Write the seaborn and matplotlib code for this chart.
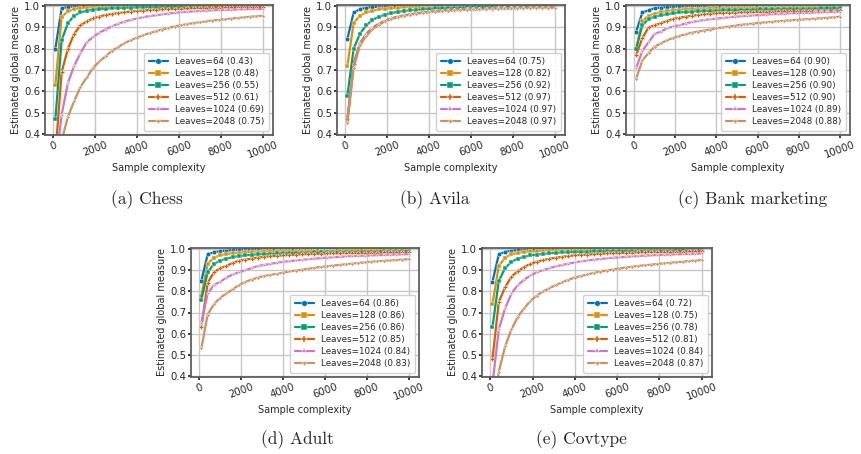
import numpy as np
import pandas as pd
import matplotlib.pyplot as plt
import seaborn as sns

# sample sizes (x axis)
samples = list(range(100, 10001, 300))
leaves = [64, 128, 256, 512, 1024, 2048]

# values in the legend, per dataset
chess_auc = [0.43, 0.48, 0.55, 0.61, 0.69, 0.75]
avila_auc = [0.75, 0.82, 0.92, 0.97, 0.97, 0.97]
bank_auc = [0.90, 0.90, 0.90, 0.90, 0.89, 0.88]
adult_auc = [0.86, 0.86, 0.86, 0.85, 0.84, 0.83]
covtype_auc = [0.72, 0.75, 0.78, 0.81, 0.84, 0.87]

chess = [
    [0.80, 0.99, 0.995, 0.998, 0.999, 1.0, 1.0, 1.0, 1.0, 1.0, 1.0, 1.0, 1.0, 1.0, 1.0, 1.0, 1.0,
     1.0, 1.0, 1.0, 1.0, 1.0, 1.0, 1.0, 1.0, 1.0, 1.0, 1.0, 1.0, 1.0, 1.0, 1.0, 1.0, 1.0],
    [0.63, 0.95, 0.975, 0.985, 0.99, 0.993, 0.995, 0.996, 0.997, 0.997, 0.998, 0.998, 0.998, 0.999,
     0.999, 0.999, 0.999, 0.999, 0.999, 0.999, 1.0, 1.0, 1.0, 1.0, 1.0, 1.0, 1.0, 1.0, 1.0, 1.0,
     1.0, 1.0, 1.0, 1.0],
    [0.47, 0.84, 0.92, 0.955, 0.97, 0.978, 0.983, 0.986, 0.988, 0.99, 0.991, 0.992, 0.993, 0.994,
     0.994, 0.995, 0.995, 0.995, 0.996, 0.996, 0.996, 0.996, 0.997, 0.997, 0.997, 0.997, 0.997,
     0.998, 0.998, 0.998, 0.998, 0.998, 0.998, 0.998],
    [0.30, 0.69, 0.80, 0.87, 0.91, 0.928, 0.942, 0.951, 0.958, 0.963, 0.967, 0.971, 0.974, 0.977,
     0.979, 0.981, 0.983, 0.985, 0.986, 0.987, 0.988, 0.989, 0.99, 0.991, 0.992, 0.993, 0.993,
     0.994, 0.994, 0.995, 0.995, 0.996, 0.996, 0.996],
    [0.25, 0.49, 0.64, 0.72, 0.78, 0.83, 0.855, 0.875, 0.89, 0.905, 0.917, 0.927, 0.935, 0.942,
     0.948, 0.953, 0.957, 0.961, 0.965, 0.968, 0.971, 0.973, 0.975, 0.977, 0.979, 0.98, 0.981,
     0.982, 0.983, 0.984, 0.985, 0.986, 0.986, 0.987],
    [0.15, 0.37, 0.48, 0.555, 0.62, 0.665, 0.71, 0.74, 0.765, 0.79, 0.808, 0.826, 0.84, 0.852,
     0.863, 0.873, 0.882, 0.89, 0.897, 0.904, 0.91, 0.915, 0.92, 0.924, 0.928, 0.932, 0.935,
     0.938, 0.941, 0.944, 0.947, 0.95, 0.952, 0.954],
]

avila = [
    [0.845, 0.97, 0.985, 0.992, 0.995, 0.997, 0.998, 0.999, 0.999, 1.0, 1.0, 1.0, 1.0, 1.0, 1.0,
     1.0, 1.0, 1.0, 1.0, 1.0, 1.0, 1.0, 1.0, 1.0, 1.0, 1.0, 1.0, 1.0, 1.0, 1.0, 1.0, 1.0, 1.0, 1.0],
    [0.72, 0.92, 0.955, 0.97, 0.978, 0.984, 0.988, 0.99, 0.992, 0.994, 0.995, 0.996, 0.997, 0.997,
     0.998, 0.998, 0.998, 0.999, 0.999, 0.999, 0.999, 0.999, 0.999, 0.999, 0.999, 0.999, 0.999,
     0.999, 0.999, 0.999, 0.999, 0.999, 0.999, 0.999],
    [0.58, 0.80, 0.87, 0.91, 0.935, 0.95, 0.96, 0.967, 0.973, 0.977, 0.98, 0.983, 0.985, 0.987,
     0.989, 0.99, 0.991, 0.992, 0.993, 0.994, 0.994, 0.995, 0.995, 0.995, 0.996, 0.996, 0.996,
     0.996, 0.997, 0.997, 0.997, 0.997, 0.997, 0.997],
    [0.47, 0.73, 0.825, 0.87, 0.898, 0.917, 0.932, 0.942, 0.95, 0.956, 0.961, 0.966, 0.97, 0.973,
     0.976, 0.978, 0.98, 0.982, 0.983, 0.984, 0.985, 0.986, 0.987, 0.988, 0.989, 0.99, 0.99,
     0.991, 0.991, 0.992, 0.992, 0.993, 0.993, 0.993],
    [0.46, 0.72, 0.82, 0.865, 0.895, 0.915, 0.93, 0.94, 0.948, 0.955, 0.96, 0.965, 0.969, 0.972,
     0.975, 0.977, 0.979, 0.981, 0.983, 0.984, 0.985, 0.986, 0.987, 0.988, 0.989, 0.99, 0.99,
     0.991, 0.991, 0.992, 0.992, 0.993, 0.993, 0.993],
    [0.45, 0.71, 0.815, 0.86, 0.892, 0.913, 0.928, 0.939, 0.947, 0.954, 0.959, 0.964, 0.968,
     0.971, 0.974, 0.976, 0.978, 0.98, 0.982, 0.983, 0.984, 0.985, 0.986, 0.987, 0.988, 0.989,
     0.99, 0.99, 0.991, 0.991, 0.992, 0.992, 0.993, 0.993],
]

bank = [
    [0.88, 0.97, 0.98, 0.99, 0.993, 0.995, 0.997, 0.998, 0.999, 1.0, 1.0, 1.0, 1.0, 1.0, 1.0, 1.0,
     1.0, 1.0, 1.0, 1.0, 1.0, 1.0, 1.0, 1.0, 1.0, 1.0, 1.0, 1.0, 1.0, 1.0, 1.0, 1.0, 1.0, 1.0],
    [0.80, 0.93, 0.955, 0.965, 0.972, 0.977, 0.98, 0.983, 0.985, 0.986, 0.987, 0.988, 0.989, 0.99,
     0.99, 0.991, 0.991, 0.992, 0.992, 0.992, 0.993, 0.993, 0.993, 0.993, 0.994, 0.994, 0.994,
     0.994, 0.994, 0.995, 0.995, 0.995, 0.995, 0.995],
    [0.80, 0.91, 0.94, 0.95, 0.957, 0.962, 0.966, 0.97, 0.972, 0.974, 0.976, 0.977, 0.978, 0.979,
     0.98, 0.981, 0.982, 0.982, 0.983, 0.983, 0.984, 0.984, 0.985, 0.985, 0.986, 0.986, 0.987,
     0.987, 0.988, 0.988, 0.989, 0.989, 0.99, 0.99],
    [0.77, 0.85, 0.90, 0.91, 0.92, 0.93, 0.94, 0.945, 0.95, 0.955, 0.958, 0.961, 0.964, 0.966,
     0.967, 0.968, 0.969, 0.97, 0.971, 0.972, 0.973, 0.973, 0.974, 0.975, 0.975, 0.976, 0.976,
     0.977, 0.977, 0.978, 0.978, 0.979, 0.979, 0.98],
    [0.71, 0.79, 0.83, 0.87, 0.88, 0.895, 0.905, 0.91, 0.918, 0.925, 0.93, 0.935, 0.938, 0.941,
     0.944, 0.947, 0.95, 0.952, 0.954, 0.956, 0.958, 0.96, 0.962, 0.963, 0.965, 0.966, 0.967,
     0.968, 0.969, 0.97, 0.971, 0.972, 0.973, 0.974],
    [0.66, 0.745, 0.78, 0.81, 0.825, 0.84, 0.85, 0.86, 0.867, 0.875, 0.88, 0.885, 0.89, 0.895, 0.9,
     0.904, 0.908, 0.912, 0.915, 0.918, 0.921, 0.924, 0.926, 0.929, 0.931, 0.933, 0.935, 0.937,
     0.939, 0.941, 0.943, 0.945, 0.947, 0.95],
]

adult = [
    [0.85, 0.975, 0.985, 0.99, 0.993, 0.995, 0.997, 0.998, 0.999, 1.0, 1.0, 1.0, 1.0, 1.0, 1.0,
     1.0, 1.0, 1.0, 1.0, 1.0, 1.0, 1.0, 1.0, 1.0, 1.0, 1.0, 1.0, 1.0, 1.0, 1.0, 1.0, 1.0, 1.0, 1.0],
    [0.78, 0.93, 0.96, 0.97, 0.977, 0.98, 0.983, 0.985, 0.987, 0.988, 0.989, 0.99, 0.99, 0.991,
     0.991, 0.992, 0.992, 0.992, 0.993, 0.993, 0.993, 0.993, 0.994, 0.994, 0.994, 0.994, 0.994,
     0.995, 0.995, 0.995, 0.995, 0.995, 0.995, 0.995],
    [0.76, 0.89, 0.93, 0.945, 0.955, 0.962, 0.967, 0.97, 0.973, 0.975, 0.977, 0.978, 0.979, 0.98,
     0.981, 0.982, 0.983, 0.983, 0.984, 0.984, 0.985, 0.985, 0.986, 0.986, 0.987, 0.987, 0.988,
     0.988, 0.988, 0.989, 0.989, 0.989, 0.99, 0.99],
    [0.63, 0.84, 0.89, 0.91, 0.92, 0.935, 0.945, 0.95, 0.955, 0.96, 0.963, 0.966, 0.968, 0.97,
     0.972, 0.974, 0.975, 0.976, 0.977, 0.978, 0.979, 0.979, 0.98, 0.981, 0.981, 0.982, 0.982,
     0.983, 0.983, 0.984, 0.984, 0.984, 0.985, 0.985],
    [0.65, 0.79, 0.83, 0.845, 0.865, 0.88, 0.89, 0.9, 0.91, 0.92, 0.925, 0.93, 0.935, 0.94, 0.943,
     0.946, 0.949, 0.952, 0.955, 0.957, 0.959, 0.961, 0.963, 0.965, 0.967, 0.968, 0.969, 0.97,
     0.971, 0.972, 0.973, 0.974, 0.975, 0.976],
    [0.53, 0.69, 0.74, 0.77, 0.79, 0.81, 0.83, 0.845, 0.855, 0.865, 0.873, 0.878, 0.882, 0.888,
     0.894, 0.898, 0.902, 0.907, 0.911, 0.915, 0.918, 0.922, 0.925, 0.928, 0.931, 0.934, 0.937,
     0.94, 0.942, 0.944, 0.946, 0.948, 0.95, 0.952],
]

covtype = [
    [0.845, 0.975, 0.987, 0.992, 0.995, 0.997, 0.998, 0.999, 1.0, 1.0, 1.0, 1.0, 1.0, 1.0, 1.0,
     1.0, 1.0, 1.0, 1.0, 1.0, 1.0, 1.0, 1.0, 1.0, 1.0, 1.0, 1.0, 1.0, 1.0, 1.0, 1.0, 1.0, 1.0, 1.0],
    [0.74, 0.92, 0.96, 0.975, 0.982, 0.986, 0.989, 0.991, 0.993, 0.994, 0.995, 0.995, 0.996,
     0.996, 0.996, 0.997, 0.997, 0.997, 0.997, 0.997, 0.998, 0.998, 0.998, 0.998, 0.998, 0.998,
     0.998, 0.998, 0.998, 0.998, 0.998, 0.998, 0.998, 0.998],
    [0.63, 0.85, 0.91, 0.94, 0.955, 0.963, 0.97, 0.974, 0.977, 0.98, 0.982, 0.984, 0.985, 0.986,
     0.987, 0.988, 0.989, 0.989, 0.99, 0.99, 0.991, 0.991, 0.992, 0.992, 0.992, 0.993, 0.993,
     0.993, 0.993, 0.994, 0.994, 0.994, 0.994, 0.994],
    [0.48, 0.75, 0.82, 0.87, 0.895, 0.915, 0.93, 0.94, 0.948, 0.954, 0.959, 0.963, 0.967, 0.97,
     0.972, 0.974, 0.976, 0.978, 0.979, 0.98, 0.981, 0.982, 0.983, 0.984, 0.985, 0.986, 0.986,
     0.987, 0.987, 0.988, 0.988, 0.989, 0.989, 0.99],
    [0.36, 0.62, 0.72, 0.79, 0.83, 0.855, 0.875, 0.89, 0.9, 0.91, 0.918, 0.925, 0.931, 0.937,
     0.942, 0.946, 0.95, 0.953, 0.956, 0.959, 0.961, 0.963, 0.965, 0.967, 0.969, 0.97, 0.972,
     0.973, 0.974, 0.975, 0.976, 0.977, 0.978, 0.979],
    [0.20, 0.42, 0.54, 0.62, 0.68, 0.72, 0.755, 0.78, 0.80, 0.815, 0.83, 0.843, 0.855, 0.865,
     0.873, 0.88, 0.887, 0.893, 0.898, 0.903, 0.908, 0.912, 0.916, 0.92, 0.923, 0.926, 0.929,
     0.932, 0.935, 0.938, 0.94, 0.943, 0.945, 0.948],
]

captions = ['(a) Chess', '(b) Avila', '(c) Bank marketing', '(d) Adult', '(e) Covtype']
datasets = [chess, avila, bank, adult, covtype]
aucs = [chess_auc, avila_auc, bank_auc, adult_auc, covtype_auc]

sns.set_theme(style='whitegrid', rc={'axes.edgecolor': '.35', 'xtick.bottom': True,
                                     'ytick.left': True, 'grid.color': '.78'})

fig = plt.figure(figsize=(8.62, 4.54), dpi=100)
W, H = 862, 454
# axes boxes in pixels: left, right, top, bottom
boxes = [(45, 273, 5, 135), (337, 565, 5, 135), (626, 850, 5, 135),
         (191, 419, 248, 377), (482, 712, 248, 377)]
# caption centres in pixels
cap_pos = [(147, 200), (435, 200), (753, 200), (297, 440), (581, 440)]

markers = ['o', 's', 's', 'P', '*', (4, 1, 0)]
palette = sns.color_palette('colorblind', 6)

for vals, auc, box, cap, cpos in zip(datasets, aucs, boxes, captions, cap_pos):
    l, r, t, b = box
    ax = fig.add_axes([l / W, 1 - b / H, (r - l) / W, (b - t) / H])
    rows = []
    for lv, a, ys in zip(leaves, auc, vals):
        for x, y in zip(samples, ys):
            rows.append({'x': x, 'y': y, 'label': f'Leaves={lv} ({a:.2f})'})
    df = pd.DataFrame(rows)
    sns.lineplot(data=df, x='x', y='y', hue='label', style='label', markers=markers,
                 dashes=False, palette=palette, markersize=3.2, markeredgewidth=0.3,
                 linewidth=1.6, ax=ax)
    ax.set_ylim(0.395, 1.005)
    ax.set_yticks([0.4, 0.5, 0.6, 0.7, 0.8, 0.9, 1.0])
    ax.set_xticks([0, 2000, 4000, 6000, 8000, 10000])
    ax.tick_params(axis='both', labelsize=7.3, length=2.5, pad=1, colors='.15')
    plt.setp(ax.get_xticklabels(), rotation=20)
    ax.set_xlabel('Sample complexity', fontsize=7, labelpad=2)
    ax.set_ylabel('Estimated global measure', fontsize=7, labelpad=2)
    leg = ax.legend(title=None, loc='lower right', fontsize=6.3, handlelength=2.2,
                    labelspacing=0.35, borderpad=0.5, framealpha=0.9)
    for h in leg.legend_handles:
        h.set_markersize(4)
    fig.text(cpos[0] / W, 1 - cpos[1] / H, cap, family='cmr10', fontsize=12.5,
             ha='center', va='center')

fig.savefig('out.png', dpi=100)
